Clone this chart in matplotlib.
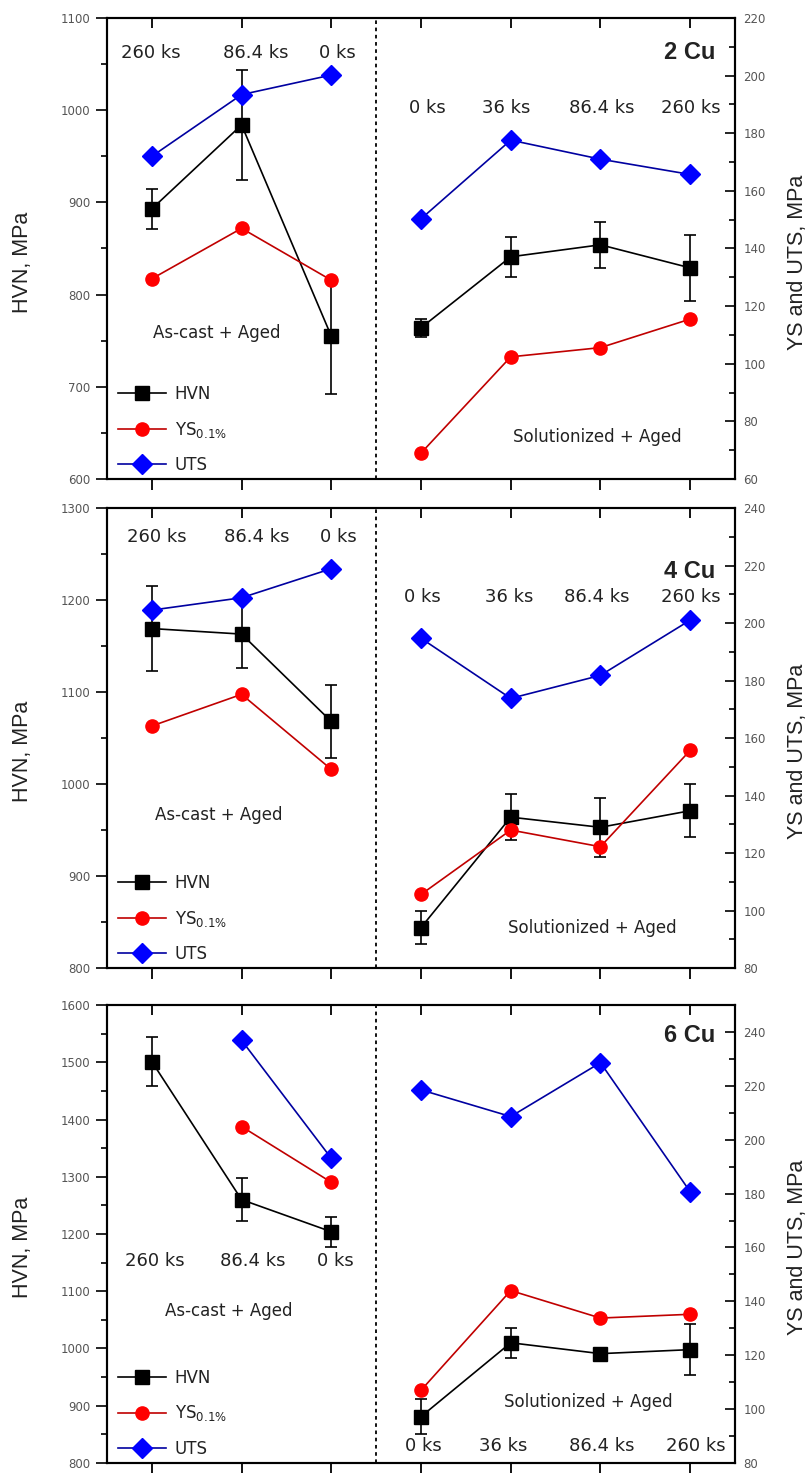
import numpy as np
import matplotlib
matplotlib.use("Agg")
import matplotlib.pyplot as plt
from matplotlib.lines import Line2D
from matplotlib.ticker import MultipleLocator

plt.rcParams["font.family"] = ["Liberation Sans", "DejaVu Sans"]

# x positions: 3 as-cast conditions, then 4 solutionized conditions
x_pos = [1, 2, 3, 4, 5, 6, 7]
ascast_times = ["260 ks", "86.4 ks", "0 ks"]
sol_times = ["0 ks", "36 ks", "86.4 ks", "260 ks"]
alloys = ["2 Cu", "4 Cu", "6 Cu"]

hvn_2cu = [893, 984, 755, 764, 841, 854, 829]
hvn_err_2cu = [22, 60, 63, 10, 22, 25, 36]
ys_2cu = [129.5, 147, 129, 69, 102.4, 105.6, 115.5]
uts_2cu = [172, 193.4, 200.2, 150.3, 177.6, 171, 165.7]

hvn_4cu = [1169, 1163, 1068, 844, 964, 953, 971]
hvn_err_4cu = [46, 37, 40, 18, 25, 32, 29]
ys_4cu = [164.2, 175.2, 149.1, 105.6, 128, 122.2, 155.7]
uts_4cu = [204.5, 208.8, 218.9, 194.7, 173.8, 181.8, 201]

hvn_6cu = [1501, 1260, 1204, 881, 1010, 991, 998]
hvn_err_6cu = [43, 37, 26, 30, 26, 5, 45]
ys_6cu = [np.nan, 204.9, 184.2, 107, 144, 133.8, 135.2]
uts_6cu = [np.nan, 236.9, 193.1, 218.5, 208.6, 228.6, 180.7]

hvn_lims = [(600, 1100), (800, 1300), (800, 1600)]
mpa_lims = [(60, 220), (80, 240), (80, 250)]

panels = [
    (hvn_2cu, hvn_err_2cu, ys_2cu, uts_2cu),
    (hvn_4cu, hvn_err_4cu, ys_4cu, uts_4cu),
    (hvn_6cu, hvn_err_6cu, ys_6cu, uts_6cu),
]

# layout (figure fractions / text placement)
axes_rects = [
    [0.1326, 0.6748, 0.7782, 0.3130],
    [0.1326, 0.3428, 0.7782, 0.3123],
    [0.1326, 0.0068, 0.7782, 0.3109],
]
ascast_x = [[0.99, 2.16, 3.07], [1.06, 2.17, 3.08], [1.03, 2.12, 3.05]]
ascast_y = [0.924, 0.937, 0.441]
sol_x = [[4.07, 4.95, 6.02, 7.01], [4.02, 4.98, 5.96, 7.01], [4.03, 4.92, 6.01, 7.06]]
sol_y = [0.805, 0.807, 0.037]
alloy_y = [0.926, 0.861, 0.934]
ascast_lbl = [(1.72, 0.317), (1.75, 0.333), (1.86, 0.332)]
sol_lbl = [(5.97, 0.091), (5.91, 0.087), (5.87, 0.133)]

BLACK = "black"
RED_M, RED_L = "#ff0000", "#c00000"
BLUE_M, BLUE_L = "#0000ff", "#0000a0"
TXT = "#222222"
ANNOT = "DejaVu Sans"

fig = plt.figure(figsize=(8.07, 14.73), dpi=100)

for i, (hvn, hvn_err, ys, uts) in enumerate(panels):
    ax = fig.add_axes(axes_rects[i])
    ax2 = ax.twinx()

    for seg in (slice(0, 3), slice(3, 7)):
        xs = x_pos[seg]
        ax.plot(xs, hvn[seg], color=BLACK, lw=1.2, marker="s", ms=9.5, zorder=3)
        ax.errorbar(xs, hvn[seg], yerr=hvn_err[seg], fmt="none", ecolor=BLACK,
                    elinewidth=1.2, capsize=4, capthick=1.2, zorder=2)
        ax2.plot(xs, ys[seg], color=RED_L, lw=1.2, marker="o", ms=9.5,
                 mfc=RED_M, mec=RED_M, zorder=3)
        ax2.plot(xs, uts[seg], color=BLUE_L, lw=1.2, marker="D", ms=10,
                 mfc=BLUE_M, mec=BLUE_M, zorder=3)

    ax.axvline(3.5, color=BLACK, lw=1.3, ls=(0, (2, 2)))

    ax.set_xlim(0.5, 7.5)
    ax.set_ylim(*hvn_lims[i])
    ax2.set_ylim(*mpa_lims[i])
    ax.set_xticks(x_pos)

    ax.yaxis.set_major_locator(MultipleLocator(100))
    ax.yaxis.set_minor_locator(MultipleLocator(50))
    ax2.yaxis.set_major_locator(MultipleLocator(20))
    ax2.yaxis.set_minor_locator(MultipleLocator(10))

    ax.tick_params(axis="x", which="both", bottom=True, top=False, direction="out",
                   length=8, width=1.3, labelbottom=False)
    ax2.xaxis.set_visible(True)
    ax2.tick_params(axis="x", which="both", bottom=False, top=True, direction="in",
                    length=7, width=1.3, labelbottom=False, labeltop=False)
    ax.tick_params(axis="y", which="major", direction="out", length=8, width=1.2,
                   labelsize=8.5, labelcolor="#555555", pad=4)
    ax.tick_params(axis="y", which="minor", direction="out", length=4, width=1.2)
    ax2.tick_params(axis="y", which="major", direction="in", length=7, width=1.2,
                    labelsize=8.5, labelcolor="#555555", pad=6)
    ax2.tick_params(axis="y", which="minor", direction="in", length=4, width=1.2)
    for lab in ax.get_yticklabels() + ax2.get_yticklabels():
        lab.set_family(ANNOT)

    for a in (ax, ax2):
        for sp in a.spines.values():
            sp.set_linewidth(1.5)

    ax.set_ylabel("HVN, MPa", fontsize=15.5, color=TXT)
    ax.yaxis.set_label_coords(-0.118, 0.47)
    ax2.set_ylabel("YS and UTS, MPa", fontsize=15.5, color=TXT)
    ax2.yaxis.set_label_coords(1.083, 0.47)

    tr = ax2.get_xaxis_transform()
    for xx, t in zip(ascast_x[i], ascast_times):
        ax2.text(xx, ascast_y[i], t, transform=tr, ha="center", va="center",
                 fontsize=13, color=TXT, family=ANNOT)
    for xx, t in zip(sol_x[i], sol_times):
        ax2.text(xx, sol_y[i], t, transform=tr, ha="center", va="center",
                 fontsize=13, color=TXT, family=ANNOT)
    ax2.text(0.968, alloy_y[i], alloys[i], transform=ax2.transAxes, ha="right",
             va="center", fontsize=17, fontweight="bold", color=TXT)
    ax2.text(ascast_lbl[i][0], ascast_lbl[i][1], "As-cast + Aged", transform=tr,
             ha="center", va="center", fontsize=12, color=TXT, family=ANNOT)
    ax2.text(sol_lbl[i][0], sol_lbl[i][1], "Solutionized + Aged", transform=tr,
             ha="center", va="center", fontsize=12, color=TXT, family=ANNOT)

    handles = [
        Line2D([], [], color=BLACK, lw=1.2, marker="s", ms=9.5),
        Line2D([], [], color=RED_L, lw=1.2, marker="o", ms=9.5, mfc=RED_M, mec=RED_M),
        Line2D([], [], color=BLUE_L, lw=1.2, marker="D", ms=10, mfc=BLUE_M, mec=BLUE_M),
    ]
    leg = ax2.legend(handles, ["HVN", r"YS$_{0.1\%}$", "UTS"], loc="lower left",
                     bbox_to_anchor=(0.007, -0.004), frameon=False,
                     prop={"family": ANNOT, "size": 12}, handlelength=2.9,
                     handletextpad=0.5, labelspacing=1.0, borderaxespad=0.1,
                     borderpad=0.3)
    for t in leg.get_texts():
        t.set_color(TXT)

fig.savefig("out.png", dpi=100)
